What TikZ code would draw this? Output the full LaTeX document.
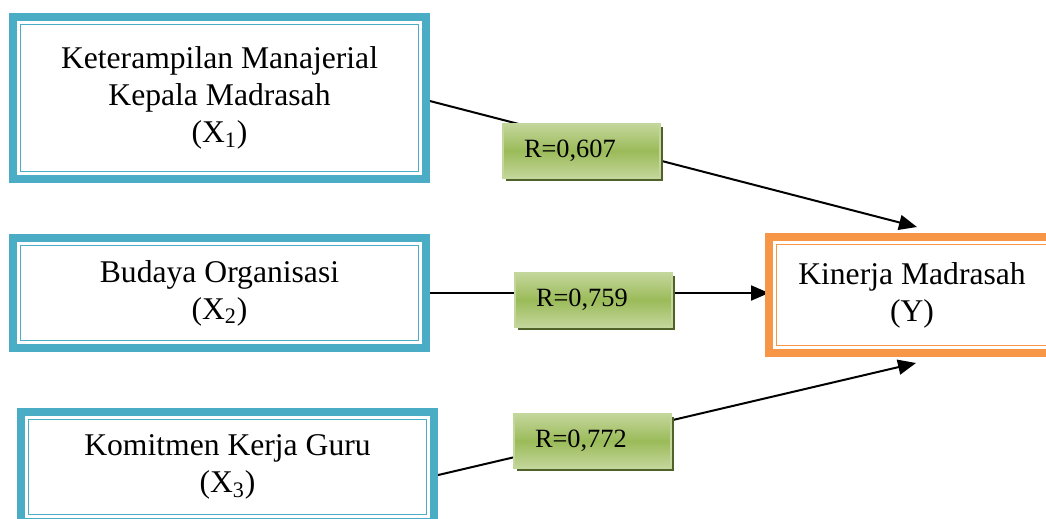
\documentclass[tikz,border=0pt]{standalone}
\usepackage{fontspec}
\setmainfont{Liberation Serif}
\definecolor{varteal}{RGB}{75, 172, 198}
\definecolor{yorange}{RGB}{247, 150, 70}
\definecolor{rgreen}{RGB}{155, 187, 89}
\definecolor{rlight}{RGB}{195, 214, 155}
\definecolor{rdark}{RGB}{79, 98, 40}
\usetikzlibrary{arrows.meta, shadows, backgrounds}

\begin{document}
\begin{tikzpicture}[x=0.02cm, y=-0.02cm,
    varbox/.style={draw=varteal, line width=0.16cm, fill=white, outer sep=0pt,
                   minimum width=8.26cm, minimum height=2.2cm, align=center,
                   font=\fontsize{18}{21}\selectfont},
    ybox/.style={varbox, draw=yorange, minimum width=5.72cm, minimum height=2.32cm},
    rbox/.style={draw=rlight, line width=0.04cm, top color=rlight, bottom color=rlight,
                 middle color=rgreen, minimum width=3.14cm, minimum height=1.08cm,
                 text width=2.3cm, inner xsep=0.42cm, align=left,
                 font=\fontsize{15}{18}\selectfont,
                 drop shadow={shadow xshift=0.06cm, shadow yshift=-0.06cm,
                              fill=rdark, opacity=1}},
    arr/.style={-{Triangle[length=0.36cm, width=0.3cm]}, line width=0.04cm}
  ]
    \useasboundingbox (0,0) rectangle (1046,518);
    \node[varbox, minimum height=3.24cm] (x1) at (219.5,98)
      {Keterampilan Manajerial\\Kepala Madrasah\\(X\textsubscript{1})};
    \node[varbox] (x2) at (219.5,293) {Budaya Organisasi\\(X\textsubscript{2})};
    \node[varbox] (x3) at (227.5,467) {Komitmen Kerja Guru\\(X\textsubscript{3})};
    \node[ybox] (y) at (912,295) {Kinerja Madrasah\\(Y)};
    % thin inner frames
    \foreach \n/\c in {x1/varteal, x2/varteal, x3/varteal, y/yorange}
      \draw[\c, line width=0.026cm] ([shift={(7.5,7.5)}]\n.north west)
        rectangle ([shift={(-7.5,-7.5)}]\n.south east);
    \coordinate (ytop) at (917,227);
    \coordinate (ybot) at (916,363);
    \node[rbox] (r1) at (581.5,151) {R=0,607};
    \node[rbox] (r2) at (593.5,300) {R=0,759};
    \node[rbox] (r3) at (592.5,441) {R=0,772};
    \begin{scope}[on background layer]
      \draw[arr] (x1.east |- 0,100) -- (ytop);
      \draw[arr] (x2.east) -- (x2.east -| y.west);
      \draw[arr] (x3.east |- 0,476) -- (ybot);
    \end{scope}
\end{tikzpicture}
\end{document}
